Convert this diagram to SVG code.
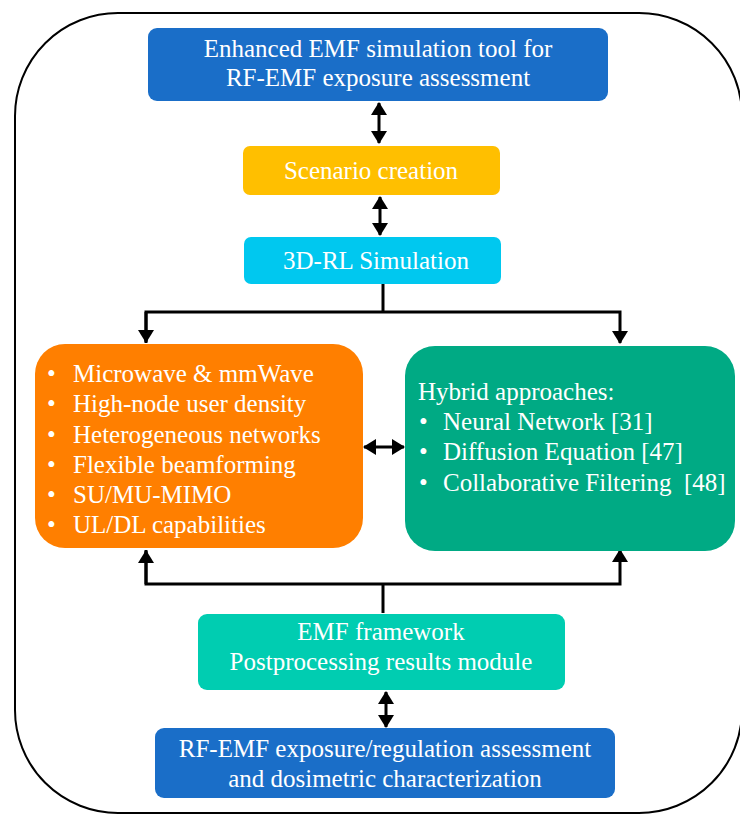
<svg xmlns="http://www.w3.org/2000/svg" width="740" height="814" viewBox="0 0 740 814">
<style>
text{font-family:"Liberation Serif","Times New Roman",serif;font-size:25px;fill:#ffffff}
.c{text-anchor:middle}
.con{stroke:#000;stroke-width:3;fill:none}
</style>
<defs>
<marker id="ah" markerUnits="userSpaceOnUse" markerWidth="14" markerHeight="16" refX="12" refY="8" orient="auto-start-reverse" viewBox="0 0 14 16">
<path d="M0,0 L13,8 L0,16 z" fill="#000"/>
</marker>
</defs>
<rect id="frame" x="15" y="13" width="727" height="800" rx="103" ry="103" fill="none" stroke="#000" stroke-width="2"/>
<g id="connectors">
<line class="con" x1="379" y1="103" x2="379" y2="143" marker-start="url(#ah)" marker-end="url(#ah)"/>
<line class="con" x1="380" y1="197" x2="380" y2="235" marker-start="url(#ah)" marker-end="url(#ah)"/>
<polyline class="con" points="383,284 383,312"/>
<polyline class="con" points="146,343 146,312 620,312 620,343" marker-end="url(#ah)"/>
<line class="con" x1="146" y1="312" x2="146" y2="342" marker-end="url(#ah)"/>
<line class="con" x1="364" y1="447" x2="404" y2="447" marker-start="url(#ah)" marker-end="url(#ah)"/>
<polyline class="con" points="383,613 383,584"/>
<polyline class="con" points="146,550 146,584 620,584 620,550" marker-end="url(#ah)"/>
<line class="con" x1="146" y1="584" x2="146" y2="551" marker-end="url(#ah)"/>
<line class="con" x1="386" y1="692" x2="386" y2="727" marker-start="url(#ah)" marker-end="url(#ah)"/>
</g>
<g id="node-tool">
<rect x="148" y="28" width="460" height="73" rx="9" fill="#1A6EC8"/>
<text class="c" x="378" y="57">Enhanced EMF simulation tool for</text>
<text class="c" x="378" y="86">RF-EMF exposure assessment</text>
</g>
<g id="node-scenario">
<rect x="243" y="146" width="257" height="49" rx="7" fill="#FFBF00"/>
<text class="c" x="371" y="179">Scenario creation</text>
</g>
<g id="node-3drl">
<rect x="244" y="237" width="257" height="47" rx="7" fill="#00C8EF"/>
<text class="c" x="376" y="269">3D-RL Simulation</text>
</g>
<g id="node-features">
<rect x="35" y="344" width="328" height="204" rx="30" fill="#FF7F00"/>
<text x="47" y="382">•</text><text x="73" y="382">Microwave &amp; mmWave</text>
<text x="47" y="412">•</text><text x="73" y="412">High-node user density</text>
<text x="47" y="443">•</text><text x="73" y="443">Heterogeneous networks</text>
<text x="47" y="473">•</text><text x="73" y="473">Flexible beamforming</text>
<text x="47" y="503">•</text><text x="73" y="503">SU/MU-MIMO</text>
<text x="47" y="533">•</text><text x="73" y="533">UL/DL capabilities</text>
</g>
<g id="node-hybrid">
<rect x="405" y="346" width="330" height="205" rx="30" fill="#00AA84"/>
<text x="418" y="400">Hybrid approaches:</text>
<text x="419" y="430">•</text><text x="443" y="430">Neural Network [31]</text>
<text x="419" y="460">•</text><text x="443" y="460">Diffusion Equation [47]</text>
<text x="419" y="491">•</text><text x="443" y="491" xml:space="preserve">Collaborative Filtering  [48]</text>
</g>
<g id="node-emf">
<rect x="198" y="614" width="367" height="76" rx="9" fill="#00CDB1"/>
<text class="c" x="381" y="640">EMF framework</text>
<text class="c" x="381" y="670">Postprocessing results module</text>
</g>
<g id="node-assessment">
<rect x="155" y="728" width="460" height="70" rx="9" fill="#1A6EC8"/>
<text class="c" x="385" y="757">RF-EMF exposure/regulation assessment</text>
<text class="c" x="385" y="787">and dosimetric characterization</text>
</g>
</svg>
